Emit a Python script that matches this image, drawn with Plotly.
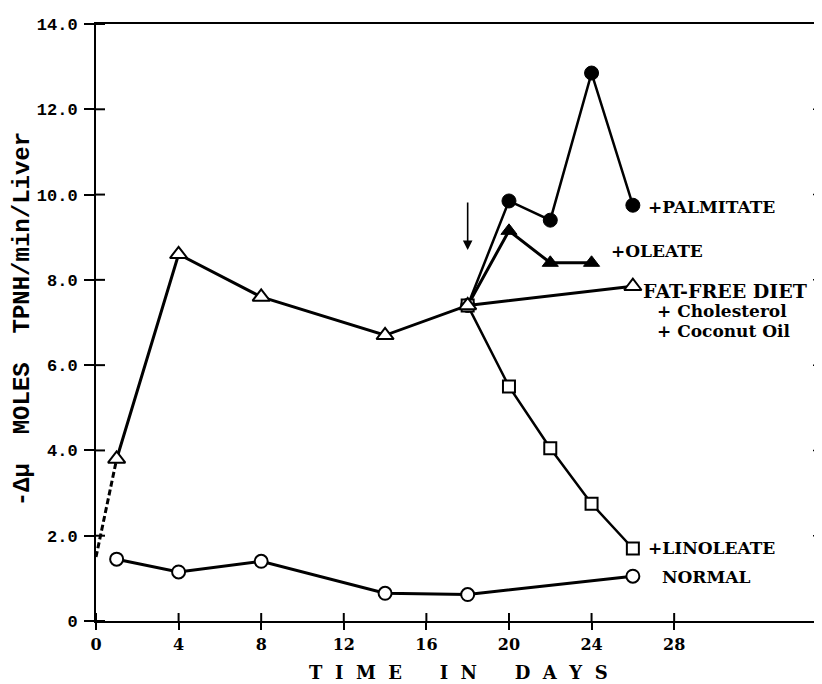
import plotly.graph_objects as go

# ---- data ----
normal_x = [1, 4, 8, 14, 18, 26]
normal_y = [1.45, 1.15, 1.4, 0.65, 0.62, 1.05]

fatfree_x = [1, 4, 8, 14, 18, 26]
fatfree_y = [3.8, 8.6, 7.6, 6.7, 7.4, 7.85]

initial_x = [0, 1]
initial_y = [1.5, 3.8]

palmitate_x = [18, 20, 22, 24, 26]
palmitate_y = [7.4, 9.85, 9.4, 12.85, 9.75]

oleate_x = [18, 20, 22, 24]
oleate_y = [7.4, 9.15, 8.4, 8.4]

linoleate_x = [18, 20, 22, 24, 26]
linoleate_y = [7.4, 5.5, 4.05, 2.75, 1.7]

x_ticks = [0, 4, 8, 12, 16, 20, 24, 28]
y_ticks = [0, 2, 4, 6, 8, 10, 12, 14]
y_ticktext = ["0", "2.0", "4.0", "6.0", "8.0", "10.0", "12.0", "14.0"]

labels = [
    ("+PALMITATE", 26.65, 9.72),
    ("+OLEATE", 24.85, 8.67),
    ("+LINOLEATE", 26.65, 1.72),
    ("NORMAL", 27.3, 1.03),
]
fatfree_label = [("FAT-FREE DIET", 26.4, 7.73), ("+ Cholesterol", 27.05, 7.27),
                 ("+ Coconut Oil", 27.05, 6.8)]
arrow_day = 18
arrow_from, arrow_to = 9.85, 8.7

BLACK = "black"
SERIF = "DejaVu Serif"
MONO = "Liberation Mono"

PLOT_W = 726  # px width of the plotting area
PLOT_H = 599  # px height of the plotting area

fig = go.Figure()

fig.add_trace(go.Scatter(x=normal_x, y=normal_y, mode="lines+markers",
    line=dict(color=BLACK, width=3),
    marker=dict(symbol="circle", size=13, color="white", line=dict(color=BLACK, width=2))))

fig.add_trace(go.Scatter(x=palmitate_x, y=palmitate_y, mode="lines+markers",
    line=dict(color=BLACK, width=2.5),
    marker=dict(symbol="circle", size=14, color=BLACK, line=dict(color=BLACK, width=1))))

fig.add_trace(go.Scatter(x=oleate_x, y=oleate_y, mode="lines+markers",
    line=dict(color=BLACK, width=3),
    marker=dict(symbol="triangle-up", size=14, color=BLACK, line=dict(color=BLACK, width=1))))

fig.add_trace(go.Scatter(x=linoleate_x, y=linoleate_y, mode="lines+markers",
    line=dict(color=BLACK, width=2.5),
    marker=dict(symbol="square", size=12, color="white", line=dict(color=BLACK, width=2))))

fig.add_trace(go.Scatter(x=initial_x, y=initial_y, mode="lines",
    line=dict(color=BLACK, width=3, dash="6px,3px")))

fig.add_trace(go.Scatter(x=fatfree_x, y=fatfree_y, mode="lines+markers",
    line=dict(color=BLACK, width=3),
    marker=dict(symbol="triangle-up", size=15, color="white", line=dict(color=BLACK, width=2))))

# inner halves of the crossing ticks, and the right-hand tick marks
shapes = []
for v in y_ticks:
    shapes.append(dict(type="line", xref="paper", yref="y", x0=0, x1=9 / PLOT_W,
                       y0=v, y1=v, line=dict(color=BLACK, width=2)))
for v in y_ticks[1:7]:
    shapes.append(dict(type="line", xref="paper", yref="y", x0=1 - 9 / PLOT_W, x1=1,
                       y0=v, y1=v, line=dict(color=BLACK, width=1.5)))
for v in x_ticks:
    shapes.append(dict(type="line", xref="x", yref="paper", x0=v, x1=v,
                       y0=0, y1=8 / PLOT_H, line=dict(color=BLACK, width=2)))

annotations = []
for txt, x, y in labels:
    annotations.append(dict(x=x, y=y, xref="x", yref="y", text=txt, showarrow=False,
        xanchor="left", yanchor="middle",
        font=dict(family=SERIF, size=17, color=BLACK, weight="bold")))

for i, (txt, x, y) in enumerate(fatfree_label):
    annotations.append(dict(x=x, y=y, xref="x", yref="y", text=txt,
        showarrow=False, xanchor="left", yanchor="middle",
        font=dict(family=SERIF, size=19 if i == 0 else 17, color=BLACK, weight="bold")))

annotations.append(dict(x=arrow_day, y=arrow_to, ax=arrow_day, ay=arrow_from,
    xref="x", yref="y", axref="x", ayref="y", text="", showarrow=True,
    arrowhead=2, arrowsize=1.2, arrowwidth=1.6, arrowcolor=BLACK))

sp = "\u00a0\u00a0"
wg = "\u00a0" * 6
xtitle = sp.join("TIME") + wg + sp.join("IN") + wg + sp.join("DAYS")
annotations.append(dict(x=0.499, y=-0.0868, xref="paper", yref="paper", text=xtitle,
    showarrow=False, xanchor="center", yanchor="middle",
    font=dict(family=SERIF, size=18, color=BLACK, weight="bold")))

annotations.append(dict(x=-0.10, y=0.506, xref="paper", yref="paper",
    text="-\u0394\u03bc  MOLES  TPNH/min/Liver", textangle=-90,
    showarrow=False, xanchor="center", yanchor="middle",
    font=dict(family=MONO, size=24, color=BLACK, weight="bold")))

xr = [0, 35.16]
yr = [0, 14]

fig.update_layout(
    width=822, height=684,
    margin=dict(l=88, r=8, t=14, b=71),
    paper_bgcolor="white", plot_bgcolor="white",
    showlegend=False,
    annotations=annotations,
    shapes=shapes,
    xaxis=dict(range=xr, tickvals=x_ticks, ticks="outside", ticklen=7, tickwidth=2,
        tickcolor=BLACK, showline=True, linecolor=BLACK, linewidth=2, mirror=True,
        showgrid=False, zeroline=False, ticklabelstandoff=1,
        tickfont=dict(family=SERIF, size=16, color=BLACK, weight="bold")),
    yaxis=dict(range=yr, tickvals=y_ticks, ticktext=y_ticktext, ticks="outside",
        ticklen=10, tickwidth=2, tickcolor=BLACK, showline=True, linecolor=BLACK,
        linewidth=2, showgrid=False, zeroline=False, ticklabelstandoff=3,
        tickfont=dict(family=MONO, size=17, color=BLACK, weight="bold")),
)

fig.write_html("out.html")
